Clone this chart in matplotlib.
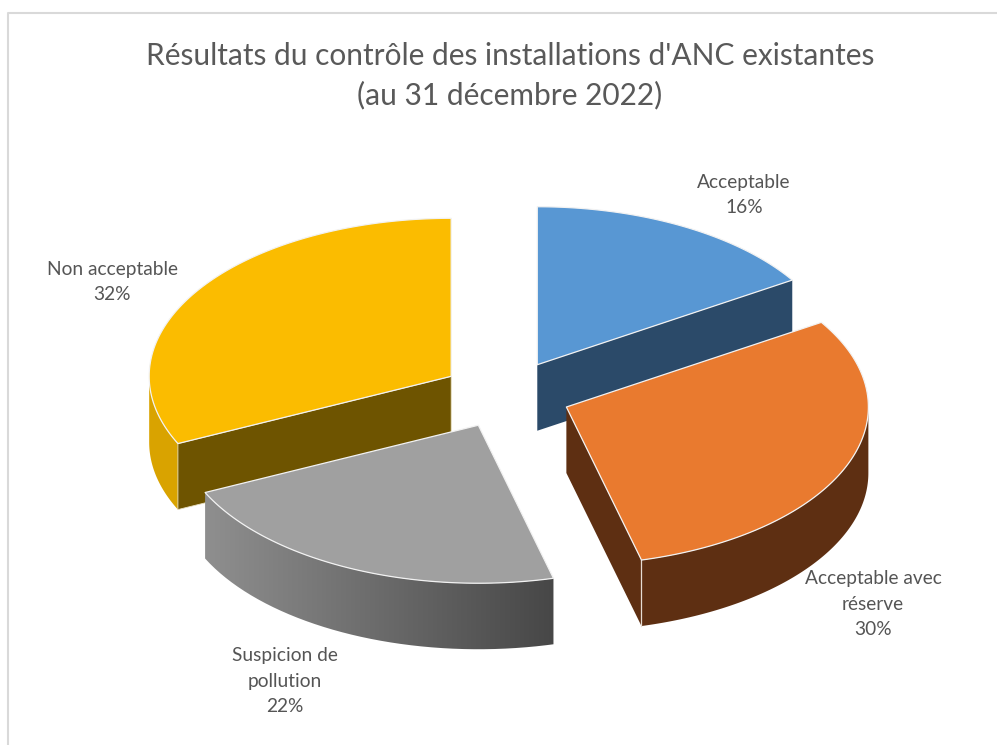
import numpy as np
import matplotlib
matplotlib.use('Agg')
import matplotlib.pyplot as plt
from matplotlib.patches import Polygon, PathPatch
from matplotlib.path import Path
from matplotlib.colors import LinearSegmentedColormap

title = "Résultats du contrôle des installations d'ANC existantes\n(au 31 décembre 2022)"
names = ['Acceptable', 'Acceptable avec\nréserve', 'Suspicion de\npollution', 'Non acceptable']
values = [16, 30, 22, 32]
top_colors = ['#5897d3', '#e97a2f', '#a0a0a0', '#fbbc00']
cut_colors = ['#2b4a69', '#5e2f12', '#4a4a4a', '#6e5400']
rim_colors = ['#2b4a69', '#5e2f12', '#8c8c8c', '#d9a300']
label_xy = [(744, 195), (873, 604), (285, 681), (112, 282)]

# geometry of the pie, in pixels
cx, cy = 506, 394.5
rx, ry = 302, 158
depth = 66
explode = 0.215

plt.rcParams['font.family'] = ['Lato', 'DejaVu Sans']

fig = plt.figure(figsize=(9.97, 7.45), dpi=100)
ax = fig.add_axes([0, 0, 1, 1])


def arc(x0, y0, t1, t2, n=120):
    t = np.radians(np.linspace(t1, t2, n))
    return np.column_stack((x0 + rx * np.sin(t), y0 - ry * np.cos(t)))


def shift(pts):
    return pts + np.array([0, depth])


def extrude(a, b=None):
    return np.vstack((a, shift(a)[::-1]))


# slices are painted back to front
edges = np.cumsum([0] + values) * 3.6
order = [0, 3, 1, 2]
for i in order:
    t1, t2 = edges[i], edges[i + 1]
    mid = np.radians((t1 + t2) / 2)
    x0 = cx + explode * rx * np.sin(mid)
    y0 = cy - explode * ry * np.cos(mid)
    apex = np.array([[x0, y0]])
    rim = arc(x0, y0, t1, t2)

    # the cut faces that look towards the viewer
    if i == 0:
        ax.add_patch(Polygon(extrude(np.vstack((apex, rim[-1:]))), fc=cut_colors[i], ec='none'))
    if i == 3:
        ax.add_patch(Polygon(extrude(arc(x0, y0, t1, 270)), fc=rim_colors[i], ec='none'))
        ax.add_patch(Polygon(extrude(np.vstack((rim[:1], apex))), fc=cut_colors[i], ec='#e8dfc0', lw=0.6))
    if i == 1:
        ax.add_patch(Polygon(extrude(np.vstack((apex, rim[-1:]))), fc=cut_colors[i], ec='none'))
        ax.add_patch(Polygon(extrude(arc(x0, y0, 90, t2)), fc=rim_colors[i], ec='none'))
        ax.plot([rim[-1, 0]] * 2, [rim[-1, 1], rim[-1, 1] + depth], color='#e6dcd2', lw=0.9)
    if i == 2:
        side = extrude(rim)
        clip = PathPatch(Path(np.vstack((side, side[:1]))), fc='none', ec='none')
        ax.add_patch(clip)
        cmap = LinearSegmentedColormap.from_list('side', ['#8f8f8f', '#474747'])
        im = ax.imshow(np.linspace(0, 1, 256)[None, :], cmap=cmap, aspect='auto',
                       extent=(rim[:, 0].min(), rim[:, 0].max(), 700, 400), zorder=1)
        im.set_clip_path(clip)

    ax.add_patch(Polygon(np.vstack((apex, rim)), fc=top_colors[i], ec='#f2f2f2', lw=0.9,
                         joinstyle='round', zorder=2))

for name, val, (lx, ly) in zip(names, values, label_xy):
    ax.text(lx, ly, f'{name}\n{val}%', ha='center', va='center', fontsize=13.8,
            color='#555555', linespacing=1.62, zorder=3)

ax.text(510, 76, title, ha='center', va='center', fontsize=21.5, color='#595959', linespacing=1.45)

# frame of the original chart, only top and left show
ax.plot([8, 8, 997], [745, 13, 13], color='#d9d9d9', lw=1.5)

ax.set_xlim(0, 997)
ax.set_ylim(745, 0)
ax.axis('off')
fig.savefig('out.png', dpi=100)
